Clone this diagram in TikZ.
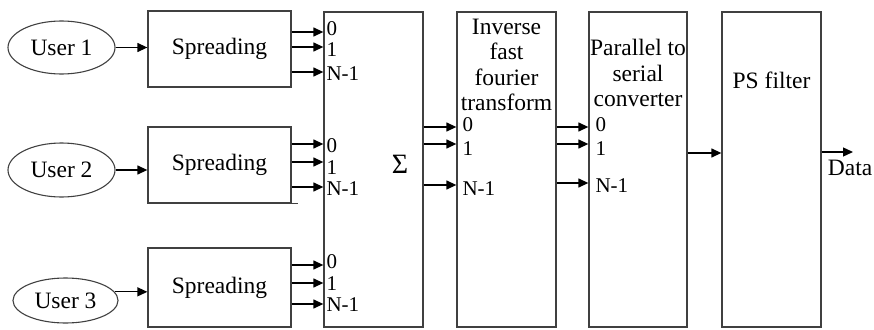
\documentclass[tikz,border=0pt]{standalone}
\usepackage{fontspec}
\setmainfont{Liberation Serif}
\usepackage{tikz}
\usetikzlibrary{positioning,shapes.geometric,arrows.meta}

\tikzset{
  blk/.style={draw=black!75, line width=1.3pt, inner sep=0pt},
  usr/.style={ellipse, draw=black!75, line width=1.1pt, inner sep=0pt},
  arr/.style={line width=1.3pt, -{Triangle[length=10pt,width=9pt]}},
  big/.style={font=\fontsize{23.5}{25.5}\selectfont},
  port/.style={font=\fontsize{21}{21}\selectfont, anchor=west, inner sep=0pt},
}

\begin{document}
\begin{tikzpicture}[x=1pt,y=-1pt]
    \useasboundingbox (0,0) rectangle (874,329);

    % Nodes
    \node[usr, big, minimum width=107pt, minimum height=53pt] (user1) at (61.5,47.5) {User 1};
    \node[usr, big, minimum width=107pt, minimum height=54pt] (user2) at (61.5,170) {User 2};
    \node[usr, big, minimum width=105pt, minimum height=45pt] (user3) at (65.5,300.5) {User 3};

    \node[blk, big, minimum width=143pt, minimum height=76pt] (spread1) at (219.5,49) {Spreading};
    \node[blk, big, minimum width=143pt, minimum height=76pt] (spread2) at (219.5,165) {Spreading};
    \node[blk, big, minimum width=143pt, minimum height=79pt] (spread3) at (219.5,287.5) {Spreading};

    \node[blk, minimum width=99pt, minimum height=315pt] (sum) at (373.5,169.5) {};
    \node[blk, minimum width=99pt, minimum height=315pt] (ifft) at (506.5,169.5) {};
    \node[blk, minimum width=98pt, minimum height=315pt] (ptos) at (638,169.5) {};
    \node[blk, minimum width=99pt, minimum height=315pt] (filter) at (771.5,169.5) {};

    \node[font=\fontsize{28}{28}\selectfont] (sigma) at (400,164) {Σ};
    \node[big, align=center, inner sep=0pt] (ifft-txt) at (506.5,65) {Inverse\\fast\\fourier\\transform};
    \node[big, align=center, inner sep=0pt] (ptos-txt) at (638,73) {Parallel to\\serial\\converter};
    \node[big, inner sep=0pt] (filter-txt) at (771.5,80) {PS filter};

    % Lines
    \draw[arr] (user1.east) -- (user1.east -| spread1.west);
    \draw[arr] (user2.east) -- (user2.east -| spread2.west);
    \draw[arr] (user3.10) -- (user3.10 -| spread3.west);
    \draw[black!75, line width=1.3pt] (spread2.south east) -- ++(6,0);

    % spreading outputs: arrow y / label y / label / name
    \foreach \y/\l/\t/\n in {32/29/0/a, 47/50/1/b, 72/73.5/N-1/c} {
      \draw[arr] (spread1.east |- 0,\y) -- (sum.west |- 0,\y);
      \node[port] (s1-\n) at ([xshift=3pt]sum.west |- 0,\l) {\t};
    }
    \foreach \y/\l/\t/\n in {144/146/0/a, 162/168/1/b, 187/189/N-1/c} {
      \draw[arr] (spread2.east |- 0,\y) -- (sum.west |- 0,\y);
      \node[port] (s2-\n) at ([xshift=3pt]sum.west |- 0,\l) {\t};
    }
    \foreach \y/\l/\t/\n in {265/262/0/a, 283/283.5/1/b, 304/305/N-1/c} {
      \draw[arr] (spread3.east |- 0,\y) -- (sum.west |- 0,\y);
      \node[port] (s3-\n) at ([xshift=3pt]sum.west |- 0,\l) {\t};
    }

    \foreach \y/\l/\t/\n in {127/125/0/a, 144/148.5/1/b, 185/188.5/N-1/c} {
      \draw[arr] (sum.east |- 0,\y) -- (ifft.west |- 0,\y);
      \node[port] (f-\n) at ([xshift=6pt]ifft.west |- 0,\l) {\t};
    }
    \foreach \y/\l/\t/\n in {127/125/0/a, 144/148.5/1/b, 183/185.5/N-1/c} {
      \draw[arr] (ifft.east |- 0,\y) -- (ptos.west |- 0,\y);
      \node[port] (p-\n) at ([xshift=7pt]ptos.west |- 0,\l) {\t};
    }

    \draw[arr] (ptos.east |- 0,153) -- (filter.west |- 0,153);
    \coordinate (out) at (853,152);
    \draw[arr] (filter.east |- out) -- (out);
    \node[big, anchor=west, inner sep=0pt] (data) at ([xshift=6pt]filter.east |- 0,168) {Data};

\end{tikzpicture}
\end{document}
